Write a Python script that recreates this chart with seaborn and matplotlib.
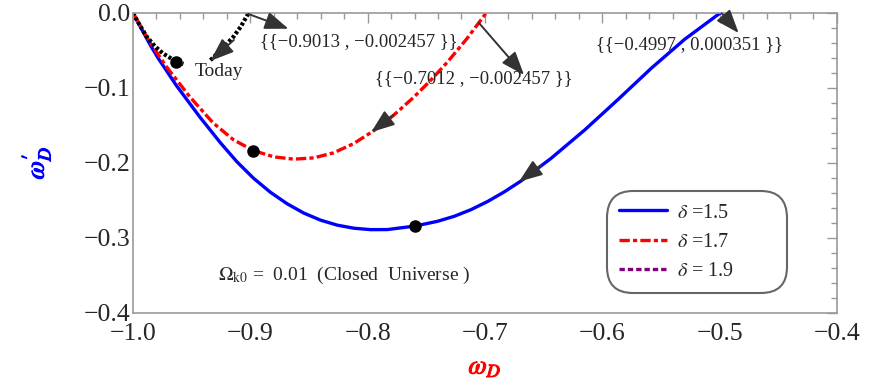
import matplotlib
matplotlib.use("Agg")
import matplotlib.pyplot as plt
import matplotlib.patheffects as pe
from matplotlib.lines import Line2D
from matplotlib.ticker import MultipleLocator, FuncFormatter
import pandas as pd
import seaborn as sns

# values
w_15 = [-1.000, -0.985, -0.9786, -0.963, -0.943, -0.9256, -0.9114, -0.8972, -0.8829,
        -0.8686, -0.8544, -0.8402, -0.8259, -0.8117, -0.7974, -0.7832, -0.7596, -0.7405,
        -0.7262, -0.7120, -0.6977, -0.6835, -0.6692, -0.6436, -0.6151, -0.5866, -0.5581,
        -0.5297, -0.4995]
wp_15 = [0.000, -0.0435, -0.0601, -0.0968, -0.1388, -0.1729, -0.1985, -0.2205, -0.2391,
         -0.2545, -0.2669, -0.2763, -0.2830, -0.2871, -0.2890, -0.2889, -0.2842, -0.2779,
         -0.2712, -0.2624, -0.2514, -0.2386, -0.2240, -0.1938, -0.1562, -0.1154, -0.0735,
         -0.0350, 0.000]

w_17 = [-1.000, -0.985, -0.9715, -0.9516, -0.9317, -0.9145, -0.8974, -0.880, -0.863,
        -0.846, -0.829, -0.812, -0.795, -0.778, -0.761, -0.7465, -0.732, -0.715, -0.699]
wp_17 = [0.000, -0.0405, -0.0716, -0.1118, -0.1466, -0.1690, -0.1835, -0.1919, -0.1950,
         -0.1933, -0.1865, -0.1743, -0.1573, -0.1366, -0.1128, -0.0902, -0.0655, -0.0335,
         0.000]

# delta = 1.9 is drawn in two pieces (gap under the "Today" label)
w_19a = [-1.000, -0.9943, -0.9886, -0.9815, -0.9744, -0.963, -0.957]
wp_19a = [0.000, -0.016, -0.031, -0.044, -0.054, -0.065, -0.068]
w_19b = [-0.934, -0.923, -0.9145, -0.908, -0.9015]
wp_19b = [-0.063, -0.046, -0.032, -0.018, 0.000]

# "today" points on each curve
today_w = [-0.7596, -0.8974, -0.963]
today_wp = [-0.2842, -0.1835, -0.065]

legend_labels = [r"$\delta$ =1.5", r"$\delta$ =1.7", r"$\delta$ = 1.9"]
x_ticks = [-1.0, -0.9, -0.8, -0.7, -0.6, -0.5, -0.4]
y_ticks = [0.0, -0.1, -0.2, -0.3, -0.4]

df = pd.concat([
    pd.DataFrame({"w": w_15, "wp": wp_15, "delta": "1.5", "seg": 0}),
    pd.DataFrame({"w": w_17, "wp": wp_17, "delta": "1.7", "seg": 1}),
    pd.DataFrame({"w": w_19a, "wp": wp_19a, "delta": "1.9", "seg": 2}),
    pd.DataFrame({"w": w_19b, "wp": wp_19b, "delta": "1.9", "seg": 3}),
])

sns.set_theme(style="white")
plt.rcParams["font.family"] = ["Liberation Serif", "DejaVu Serif"]
plt.rcParams["mathtext.fontset"] = "stix"

fig = plt.figure(figsize=(8.72, 3.82), dpi=100)
ax = fig.add_axes([0.1525, 0.181, 0.8073, 0.785])

sns.lineplot(data=df, x="w", y="wp", hue="delta", style="delta", units="seg",
             palette={"1.5": "#0000ff", "1.7": "#ff0000", "1.9": "#000000"},
             dashes={"1.5": "", "1.7": (3.1, 0.95, 1.25, 0.95), "1.9": (0.75, 0.5)},
             sort=False, estimator=None, linewidth=2.4, legend=False, ax=ax)
for ln in ax.get_lines():
    if ln.get_color() in ("#000000", "black", (0.0, 0.0, 0.0)):
        ln.set_linewidth(3.0)

ax.plot(today_w, today_wp, "o", color="black", markersize=8, zorder=5)

arrow_kw = dict(arrowstyle="-|>,head_length=0.8,head_width=0.3", color="#333333",
                lw=1.4, mutation_scale=18, shrinkA=0, shrinkB=0)

# direction heads along the curves
ax.annotate("", xy=(-0.671, -0.225), xytext=(-0.652, -0.203), arrowprops=arrow_kw)
ax.annotate("", xy=(-0.797, -0.159), xytext=(-0.778, -0.136), arrowprops=arrow_kw)
ax.annotate("", xy=(-0.934, -0.064), xytext=(-0.914, -0.036), arrowprops=arrow_kw)

# arrows from end points to the labels
ax.annotate("", xy=(-0.8675, -0.021), xytext=(-0.9017, -0.0013), arrowprops=arrow_kw)
ax.annotate("", xy=(-0.6667, -0.0827), xytext=(-0.7051, -0.0133), arrowprops=arrow_kw)
ax.annotate("", xy=(-0.4838, -0.0267), xytext=(-0.4983, -0.0003), arrowprops=arrow_kw)

ax.text(-0.8077, -0.0387, "{{\u22120.9013 , \u22120.002457 }}", fontsize=13.5,
        ha="center", va="center")
ax.text(-0.7094, -0.088, "{{\u22120.7012 , \u22120.002457 }}", fontsize=13.5,
        ha="center", va="center")
ax.text(-0.5256, -0.0427, "{{\u22120.4997 , 0.000351 }}", fontsize=13.5,
        ha="center", va="center")
ax.text(-0.927, -0.0787, "Today", fontsize=14, ha="center", va="center")
ax.text(-0.8197, -0.3507, r"$\Omega_{\rm k0}$ =  0.01  (Closed  Universe )",
        fontsize=14, ha="center", va="center")

ax.set_xlim(-1.0, -0.4)
ax.set_ylim(-0.4, 0.0)
ax.set_xticks(x_ticks)
ax.set_yticks(y_ticks)
ax.xaxis.set_minor_locator(MultipleLocator(0.02))
ax.yaxis.set_minor_locator(MultipleLocator(0.02))
fmt = FuncFormatter(lambda v, p: f"{v:.1f}".replace("-", "\u2212") if abs(v) > 1e-9 else "0.0")
ax.xaxis.set_major_formatter(fmt)
ax.yaxis.set_major_formatter(fmt)
ax.tick_params(which="both", direction="in", top=True, right=True,
               color="#999999", width=1, labelsize=18.5)
ax.tick_params(which="major", length=7)
ax.tick_params(which="minor", length=4)
ax.tick_params(axis="x", pad=7)
ax.tick_params(axis="y", pad=2)
for s in ax.spines.values():
    s.set_color("#999999")
    s.set_linewidth(1.2)

ax.set_xlabel(r"$\omega_D$", color="#ff0000", fontsize=19, labelpad=9,
              path_effects=[pe.withStroke(linewidth=0.8, foreground="#ff0000")])
ax.set_ylabel(r"$\omega^{\prime}_D$", color="#0000ff", fontsize=19, labelpad=22,
              path_effects=[pe.withStroke(linewidth=0.8, foreground="#0000ff")])

handles = [
    Line2D([], [], color="#0000ff", lw=2.4),
    Line2D([], [], color="#ff0000", lw=2.4, dashes=(3.1, 0.95, 1.25, 0.95)),
    Line2D([], [], color="#800080", lw=2.4, dashes=(1.6, 0.9)),
]
leg = ax.legend(handles, legend_labels, loc="center",
                bbox_to_anchor=(0.673, 0.0624, 0.256, 0.347), mode="expand",
                fontsize=14.5, handlelength=2.4, handletextpad=0.5, labelspacing=0.5,
                borderpad=0.6, borderaxespad=0, frameon=True, fancybox=True)
frame = leg.get_frame()
frame.set_boxstyle("round,pad=0,rounding_size=1.3")
frame.set_edgecolor("#666666")
frame.set_linewidth(1.5)
frame.set_alpha(1)

fig.savefig("out.png", dpi=100)
